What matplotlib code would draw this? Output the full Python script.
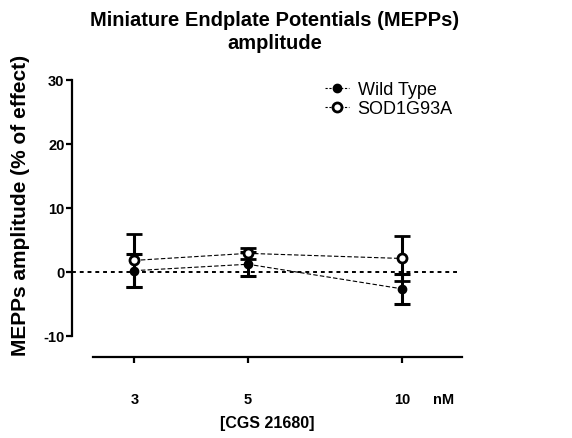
import matplotlib.pyplot as plt
import matplotlib.transforms as mtransforms

plt.rcParams['font.family'] = ['Liberation Sans', 'DejaVu Sans']

# data
conc = [3, 5, 10]
wt_mean = [0.2, 1.2, -2.65]
wt_err = [2.6, 1.9, 2.3]
sod_mean = [1.8, 2.9, 2.1]
sod_err = [4.2, 0.9, 3.5]
yticks = [-10, 0, 10, 20, 30]

fig = plt.figure(figsize=(5.72, 4.39), dpi=100)
ax = fig.add_axes([0.1259, 0.1845, 0.6818, 0.631])

ax.set_xscale('log')
ax.set_xlim(2.268, 13.08)
ax.set_ylim(-13.3, 30)

# zero line
ax.axhline(0, xmin=0, xmax=(458 - 72) / 390, color='black', ls=(0, (2, 2)), lw=1.4, zorder=1)

ax.errorbar(conc, wt_mean, yerr=wt_err, fmt='o', color='black', ms=6, ecolor='black',
            elinewidth=2.2, capsize=5.5, capthick=2.2, zorder=3)
ax.errorbar(conc, sod_mean, yerr=sod_err, fmt='o', color='black', mfc='white', mec='black',
            mew=2, ms=6.5, ecolor='black', elinewidth=2.2, capsize=5.5, capthick=2.2, zorder=4)
ax.plot(conc, wt_mean, ls=(0, (4, 2)), color='black', lw=0.8, zorder=2)
ax.plot(conc, sod_mean, ls=(0, (4, 2)), color='black', lw=0.8, zorder=2)

# spines
for s in ['top', 'right']:
    ax.spines[s].set_visible(False)
ax.spines['left'].set_bounds(-10, 30)
ax.spines['left'].set_linewidth(1.6)
ax.spines['bottom'].set_bounds(2.492, 13.08)
ax.spines['bottom'].set_linewidth(1.6)

ax.set_yticks(yticks)
ax.set_yticklabels([str(v) for v in yticks], fontsize=10.5, fontweight='bold')
ax.tick_params(axis='y', length=4, width=1.6, pad=1.5)

ax.set_xticks(conc)
ax.set_xticklabels([str(c) for c in conc], fontsize=10.5, fontweight='bold')
ax.minorticks_off()
ax.tick_params(axis='x', which='both', length=4, width=1.6, pad=21)

off = mtransforms.ScaledTranslation(0, -(4 + 21) / 72, fig.dpi_scale_trans)
ax.text(11.48, -13.3, 'nM', transform=ax.transData + off, fontsize=10.5, fontweight='bold',
        ha='left', va='top')

ax.set_xlabel('[CGS 21680]', fontsize=11.5, fontweight='bold', labelpad=7)
ax.set_ylabel('MEPPs amplitude (% of effect)', fontsize=15, fontweight='bold')
ax.yaxis.set_label_coords(-0.108, 0.549)

fig.suptitle('Miniature Endplate Potentials (MEPPs)\namplitude', fontsize=14.5, fontweight='bold',
             x=275 / 572, y=0.975, va='top', linespacing=1.25)

h1 = plt.Line2D([], [], color='black', ls=(0, (2, 1.5)), lw=0.8, marker='o', ms=6)
h2 = plt.Line2D([], [], color='black', ls=(0, (2, 1.5)), lw=0.8, marker='o', ms=6.5,
                mfc='white', mew=2)
fig.legend([h1, h2], ['Wild Type', 'SOD1G93A'], loc='upper left', bbox_to_anchor=(0.54, 0.85),
           frameon=False, fontsize=13, handlelength=1.3, handletextpad=0.5, labelspacing=0.1)

fig.savefig('out.png', dpi=100)
